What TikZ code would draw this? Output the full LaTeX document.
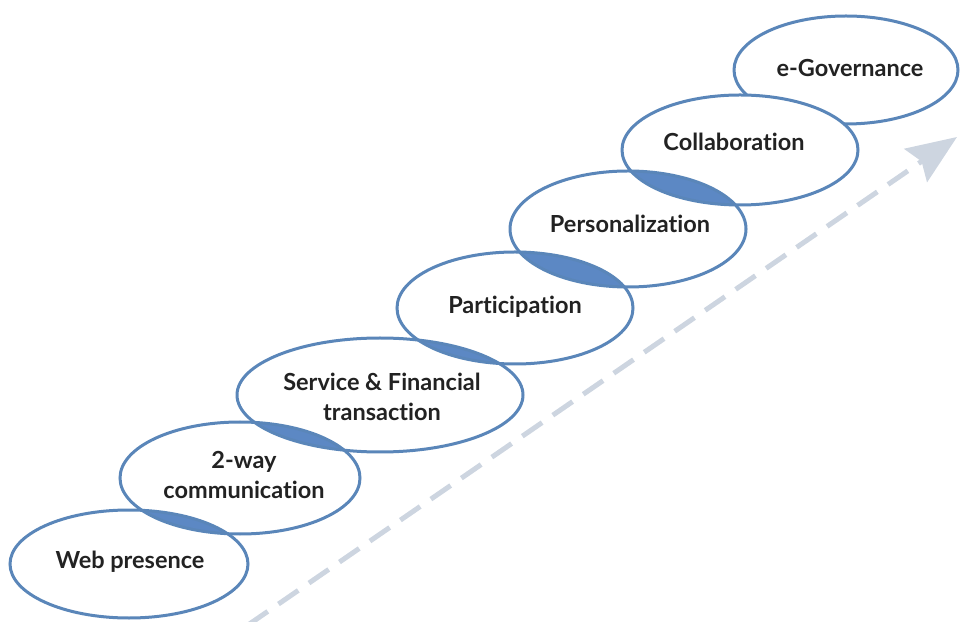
\documentclass[tikz,border=0pt]{standalone}
\usepackage{fontspec}
\setmainfont{Lato}[Ligatures={NoCommon}]
\usepackage{tikz}
\usetikzlibrary{arrows.meta}

\definecolor{ringblue}{RGB}{90,134,185}
\definecolor{lensblue}{RGB}{92,136,196}
\definecolor{textgray}{RGB}{34,34,34}
\definecolor{trendgray}{RGB}{205,213,224}

\tikzset{
  ring/.style={draw=ringblue, line width=3pt},
  lens/.style={fill=lensblue},
  stagetext/.style={font=\bfseries\fontsize{23.5}{30}\selectfont, text=textgray, align=center},
  trend/.style={draw=trendgray, line width=5pt, dash pattern=on 24pt off 13pt,
    -{Stealth[length=50pt, width=40pt, inset=7pt]}}
}

\begin{document}
\begin{tikzpicture}[x=1pt, y=1pt]
  \useasboundingbox (0,0) rectangle (960,621);

  % dashed trend arrow
  \coordinate (trendstart) at (248,-4);
  \coordinate (trendtip) at (957,484);
  \draw[trend] (trendstart) -- (trendtip);

  % top stage lies under collaboration
  \filldraw[ring, fill=white] (846,551) ellipse [x radius=112, y radius=54];

  % white stages
  \fill[white] (740,471) ellipse [x radius=118, y radius=55];
  \fill[white] (628,392) ellipse [x radius=118, y radius=58];
  \fill[white] (515,313) ellipse [x radius=118, y radius=56];
  \fill[white] (380,226) ellipse [x radius=143, y radius=57];
  \fill[white] (240,143) ellipse [x radius=120, y radius=56];
  \fill[white] (129,57) ellipse [x radius=119, y radius=54];

  % overlaps
  \begin{scope}
    \clip (129,57) ellipse [x radius=119, y radius=54];
    \fill[lens] (240,143) ellipse [x radius=120, y radius=56];
  \end{scope}
  \begin{scope}
    \clip (240,143) ellipse [x radius=120, y radius=56];
    \fill[lens] (380,226) ellipse [x radius=143, y radius=57];
  \end{scope}
  \begin{scope}
    \clip (380,226) ellipse [x radius=143, y radius=57];
    \fill[lens] (515,313) ellipse [x radius=118, y radius=56];
  \end{scope}
  \begin{scope}
    \clip (515,313) ellipse [x radius=118, y radius=56];
    \fill[lens] (628,392) ellipse [x radius=118, y radius=58];
  \end{scope}
  \begin{scope}
    \clip (628,392) ellipse [x radius=118, y radius=58];
    \fill[lens] (740,471) ellipse [x radius=118, y radius=55];
  \end{scope}

  % outlines
  \draw[ring] (740,471) ellipse [x radius=118, y radius=55];
  \draw[ring] (628,392) ellipse [x radius=118, y radius=58];
  \draw[ring] (515,313) ellipse [x radius=118, y radius=56];
  \draw[ring] (380,226) ellipse [x radius=143, y radius=57];
  \draw[ring] (240,143) ellipse [x radius=120, y radius=56];
  \draw[ring] (129,57) ellipse [x radius=119, y radius=54];

  % labels
  \node[stagetext] (web) at (130,59) {Web presence};
  \node[stagetext] (comm) at (244,146) {2-way\\communication};
  \node[stagetext] (serv) at (382,224) {Service \& Financial\\transaction};
  \node[stagetext] (part) at (515,314) {Participation};
  \node[stagetext] (pers) at (630,397) {Personalization};
  \node[stagetext] (coll) at (734,479) {Collaboration};
  \node[stagetext] (egov) at (850,553) {e-Governance};
\end{tikzpicture}
\end{document}
